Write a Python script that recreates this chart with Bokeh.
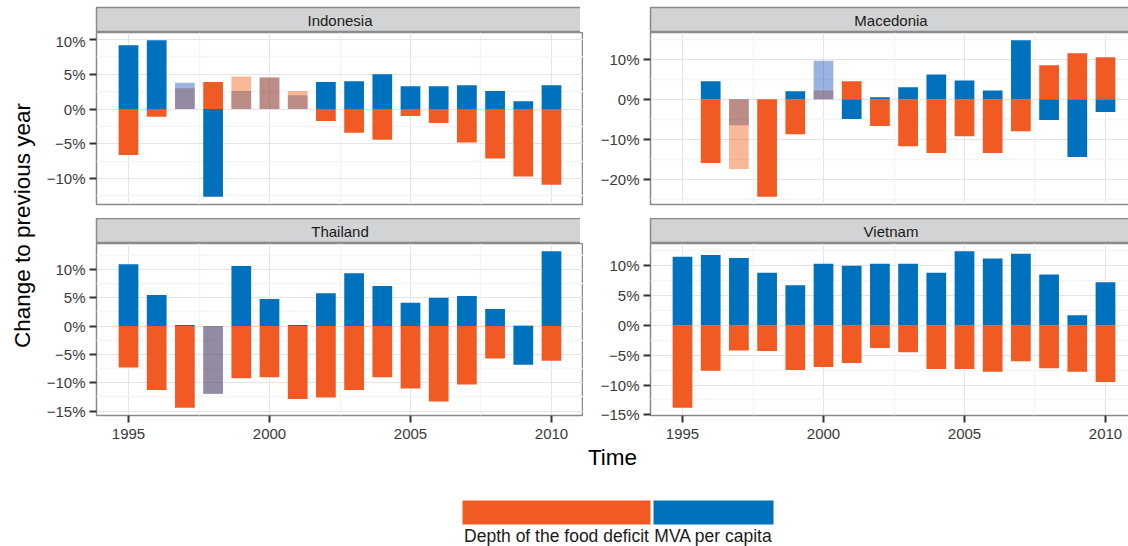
import numpy as np
from bokeh.plotting import figure
from bokeh.models import Range1d, FixedTicker
from bokeh.layouts import row, column
from bokeh.core.properties import value
from bokeh.embed import file_html
from bokeh.resources import INLINE

FONT = "Liberation Sans"
ORANGE = "#F15A22"
BLUE = "#0071BC"
ORANGE_T = "#F05000"
BLUE_T = "#0043B1"
STRIP = "#D2D3D5"
BORDER = "#8A8A8A"

years = list(range(1995, 2011))
series_names = ["Depth of the food deficit", "MVA per capita"]

indonesia_food = [-6.6, -1.1, 3.0, 3.9, 4.7, 4.6, 2.6, -1.7, -3.4, -4.4, -1.0, -2.0, -4.8, -7.1, -9.7, -10.9]
indonesia_mva = [9.2, 9.9, 3.8, -12.6, 2.6, 4.5, 2.0, 3.9, 4.0, 5.0, 3.3, 3.3, 3.45, 2.6, 1.15, 3.45]

macedonia_food = [np.nan, -15.9, -17.4, -24.3, -8.7, 2.2, 4.5, -6.7, -11.7, -13.4, -9.2, -13.4, -8.0, 8.5, 11.45, 10.5]
macedonia_mva = [np.nan, 4.5, -6.5, 0.0, 2.0, 9.6, -4.9, 0.5, 3.0, 6.2, 4.7, 2.2, 14.7, -5.2, -14.4, -3.2]

thailand_food = [-7.3, -11.3, -14.4, -11.9, -9.2, -9.05, -12.85, -12.6, -11.3, -9.05, -11.0, -13.3, -10.3, -5.7, 0.1, -6.1]
thailand_mva = [10.9, 5.5, 0.2, -12.0, 10.6, 4.8, 0.2, 5.8, 9.35, 7.1, 4.1, 5.0, 5.3, 3.0, -6.8, 13.2]

vietnam_food = [-13.8, -7.6, -4.2, -4.3, -7.5, -7.0, -6.3, -3.8, -4.5, -7.3, -7.3, -7.8, -6.0, -7.2, -7.8, -9.5]
vietnam_mva = [11.5, 11.8, 11.3, 8.8, 6.7, 10.3, 10.0, 10.3, 10.3, 8.8, 12.4, 11.2, 12.0, 8.5, 1.7, 7.2]

x_ticks = [1995, 2000, 2005, 2010]
indonesia_yticks = [-10, -5, 0, 5, 10]
macedonia_yticks = [-20, -10, 0, 10]
thailand_yticks = [-15, -10, -5, 0, 5, 10]
vietnam_yticks = [-15, -10, -5, 0, 5, 10]

BAR_W = 0.7
FRAME_H = 172
TOP_PAD = 7


def pct_label(t):
    return ("\u2212" if t < 0 else "") + f"{abs(t)}%"


def minor_of(ticks):
    step = ticks[1] - ticks[0]
    return [ticks[0] - step / 2] + [t + step / 2 for t in ticks]


def strip_fig(name, border_left, frame_w, h, top_pad=0):
    p = figure(frame_width=frame_w, frame_height=h, x_range=Range1d(0, 1), y_range=Range1d(0, 1),
               output_backend="svg", toolbar_location=None, min_border=0,
               min_border_left=border_left, min_border_right=0, min_border_top=top_pad)
    p.axis.visible = False
    p.grid.visible = False
    p.background_fill_color = STRIP
    p.border_fill_color = "white"
    p.outline_line_color = BORDER
    p.outline_line_width = 1.5
    p.text(x=[0.5], y=[0.5], text=[name], text_align="center", text_baseline="middle",
           text_font=value(FONT), text_font_size="15px", text_color="#1A1A1A")
    return p


def panel(food, mva, yticks, border_left, frame_w, bottom_row, clip_right):
    food = np.array(food, float)
    mva = np.array(mva, float)
    x = np.array(years, float)
    allv = np.concatenate([food[~np.isnan(food)], mva[~np.isnan(mva)], [0.0]])
    lo, hi = allv.min(), allv.max()
    pad = 0.05 * (hi - lo)
    xlo, xhi = years[0] - BAR_W / 2, years[-1] + BAR_W / 2
    xpad = 0.05 * (xhi - xlo)
    x0, x1 = xlo - xpad, xhi + xpad
    if clip_right:
        x1 = x0 + (x1 - x0) * frame_w / 487.0
    p = figure(frame_width=frame_w, frame_height=FRAME_H, x_range=Range1d(x0, x1),
               y_range=Range1d(lo - pad, hi + pad), output_backend="svg", toolbar_location=None,
               min_border=0, min_border_left=border_left, min_border_right=0,
               min_border_bottom=30 if bottom_row else 14)
    p.background_fill_color = "white"
    p.outline_line_color = BORDER
    p.outline_line_width = 1.5

    p.yaxis.ticker = FixedTicker(ticks=yticks, minor_ticks=minor_of(yticks))
    p.yaxis.major_label_overrides = {t: pct_label(t) for t in yticks}
    p.xaxis.ticker = FixedTicker(ticks=x_ticks, minor_ticks=minor_of(x_ticks))
    for ax in p.axis:
        ax.axis_line_color = None
        ax.major_tick_line_color = "#333333"
        ax.major_tick_line_width = 2
        ax.major_tick_out = 7
        ax.major_tick_in = 0
        ax.minor_tick_line_color = None
        ax.major_label_text_font = FONT
        ax.major_label_text_font_size = "15px"
        ax.major_label_text_color = "#3A3A3A"
        ax.major_label_standoff = 4
    p.xaxis.major_label_standoff = 6
    if not bottom_row:
        p.xaxis.visible = False
    for g in p.grid:
        g.grid_line_color = "#E4E4E4"
        g.grid_line_width = 1
        g.minor_grid_line_color = "#F4F4F4"
        g.minor_grid_line_width = 1.5

    same = (food * mva) > 0
    opp = (~same) & (~np.isnan(food)) & (~np.isnan(mva))
    p.vbar(x=x[opp], bottom=0, top=food[opp], width=BAR_W, fill_color=ORANGE, line_color=None)
    p.vbar(x=x[opp], bottom=0, top=mva[opp], width=BAR_W, fill_color=BLUE, line_color=None)

    idx = np.where(same)[0]
    sx, stop, scol, ltop, lcol = [], [], [], [], []
    for i in idx:
        sx.append(x[i])
        if abs(food[i]) >= abs(mva[i]):
            stop.append(mva[i]); scol.append(BLUE_T)
            ltop.append(food[i]); lcol.append(ORANGE_T)
        else:
            stop.append(food[i]); scol.append(ORANGE_T)
            ltop.append(mva[i]); lcol.append(BLUE_T)
    if sx:
        p.vbar(x=sx, bottom=0, top=stop, width=BAR_W, fill_color=scol, fill_alpha=0.4, line_color=None)
        p.vbar(x=sx, bottom=0, top=ltop, width=BAR_W, fill_color=lcol, fill_alpha=0.4, line_color=None)
    return p


YLAB_W = 43
LB_L, FW_L = 50, 487
LB_R, FW_R = 67, 481

indo = panel(indonesia_food, indonesia_mva, indonesia_yticks, LB_L, FW_L, False, False)
mace = panel(macedonia_food, macedonia_mva, macedonia_yticks, LB_R, FW_R, False, True)
thai = panel(thailand_food, thailand_mva, thailand_yticks, LB_L, FW_L, True, False)
viet = panel(vietnam_food, vietnam_mva, vietnam_yticks, LB_R, FW_R, True, True)

left_col = column(strip_fig("Indonesia", LB_L, FW_L, 25, TOP_PAD), indo,
                  strip_fig("Thailand", LB_L, FW_L, 25), thai, spacing=0)
right_col = column(strip_fig("Macedonia", LB_R, FW_R, 25, TOP_PAD), mace,
                   strip_fig("Vietnam", LB_R, FW_R, 25), viet, spacing=0)

TOP_H = TOP_PAD + 25 + FRAME_H + 14 + 25 + FRAME_H + 30
ylab = figure(width=YLAB_W, height=TOP_H, x_range=Range1d(0, YLAB_W), y_range=Range1d(TOP_H, 0),
              output_backend="svg", toolbar_location=None, min_border=0)
ylab.axis.visible = False
ylab.grid.visible = False
ylab.outline_line_color = None
ylab.text(x=[22], y=[225], text=["Change to previous year"], angle=np.pi / 2,
          text_align="center", text_baseline="middle", text_font=value(FONT),
          text_font_size="22.5px", text_color="#000000")

BOT_H = 546 - TOP_H
bottom = figure(width=1128, height=BOT_H, x_range=Range1d(0, 1128), y_range=Range1d(BOT_H, 0),
                output_backend="svg", toolbar_location=None, min_border=0)
bottom.axis.visible = False
bottom.grid.visible = False
bottom.outline_line_color = None
bottom.text(x=[612], y=[12], text=["Time"], text_align="center", text_baseline="middle",
            text_font=value(FONT), text_font_size="22.5px", text_color="#000000")
key_left = [462, 653]
key_right = [650, 773]
bottom.quad(left=key_left, right=key_right, top=[55, 55], bottom=[79, 79],
            fill_color=[ORANGE, BLUE], line_color=None)
bottom.text(x=[(a + b) / 2 for a, b in zip(key_left, key_right)], y=[90, 90], text=series_names,
            text_align="center", text_baseline="middle", text_font=value(FONT),
            text_font_size="17.5px", text_color="#1A1A1A")

layout = column(row(ylab, left_col, right_col, spacing=0), bottom, spacing=0)

open("out.html", "w").write(file_html(layout, INLINE))
